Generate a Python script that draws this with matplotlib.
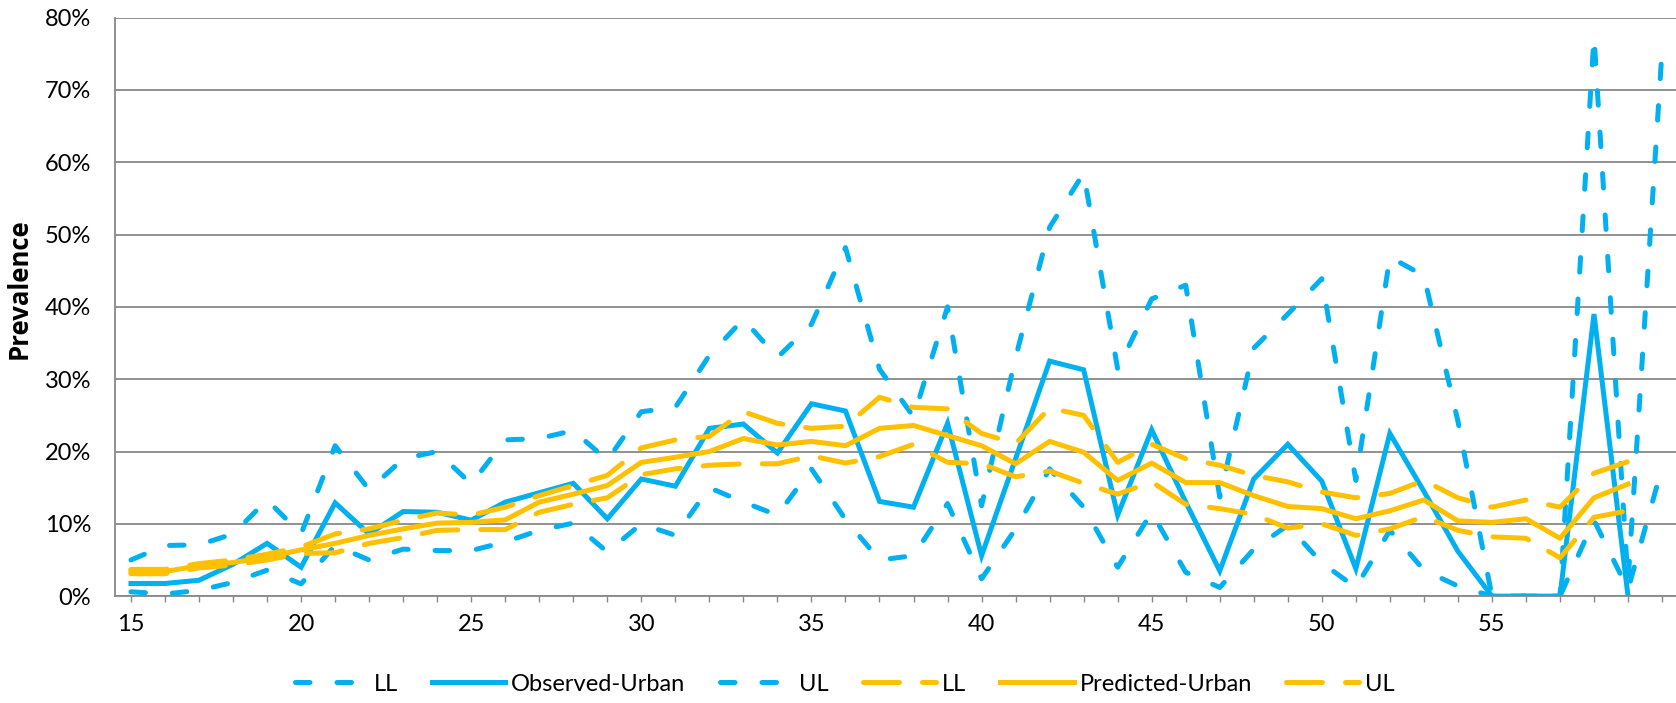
import numpy as np
import matplotlib
matplotlib.use("Agg")
import matplotlib.pyplot as plt
from matplotlib.ticker import FixedLocator, FuncFormatter

plt.rcParams["font.family"] = ["Lato", "DejaVu Sans"]

ages = np.arange(15, 61)

# observed prevalence (%) with its confidence limits
observed = [1.75, 1.75, 2.2, 4.4, 7.3, 4.0, 12.9, 8.6, 11.7, 11.6,
            10.5, 13.0, 14.3, 15.6, 10.7, 16.2, 15.2, 23.2, 23.8, 19.8,
            26.6, 25.6, 13.1, 12.3, 23.9, 5.6, 19.0, 32.5, 31.3, 11.2,
            23.0, 13.0, 3.5, 16.2, 21.0, 15.9, 3.8, 22.5, 14.5, 6.2,
            0.0, 0.0, 0.0, 39.0, 0.0, np.nan]
observed_ll = [0.6, 0.3, 0.8, 1.9, 3.6, 1.7, 7.0, 5.0, 6.5, 6.3,
               6.3, 7.5, 9.1, 10.1, 6.1, 10.0, 8.4, 15.0, 13.0, 11.2,
               17.6, 10.6, 5.0, 5.6, 12.8, 2.4, 9.3, 17.6, 12.3, 4.0,
               11.6, 3.3, 1.2, 6.5, 9.8, 4.6, 1.2, 9.1, 3.6, 1.4,
               0.0, 0.0, 0.0, 10.5, 0.9, 17.8]
observed_ul = [5.0, 7.0, 7.1, 8.6, 13.3, 8.6, 20.8, 14.7, 19.0, 20.0,
               15.5, 21.6, 21.8, 22.9, 18.8, 25.5, 26.1, 33.3, 38.3, 33.0,
               37.6, 48.2, 31.4, 24.8, 40.0, 12.5, 33.0, 51.0, 58.5, 31.4,
               41.1, 43.0, 13.7, 34.3, 39.0, 43.9, 16.0, 46.9, 44.3, 24.2,
               0.0, 0.0, 0.0, 77.4, 2.0, 75.5]

# model-predicted prevalence (%) with its confidence limits
predicted = [3.4, 3.4, 4.2, 4.65, 5.4, 6.4, 7.3, 8.4, 9.3, 10.1,
             10.2, 10.55, 13.0, 14.1, 15.3, 18.5, 19.2, 20.0, 21.8, 20.9,
             21.4, 20.8, 23.2, 23.6, 22.2, 20.8, 18.3, 21.4, 19.9, 16.0,
             18.4, 15.7, 15.7, 13.9, 12.4, 12.1, 10.7, 11.8, 13.3, 10.4,
             10.2, 10.7, 8.0, 13.6, 15.5, np.nan]
predicted_ll = [3.1, 3.1, 3.9, 4.3, 5.0, 5.9, 6.0, 7.3, 8.1, 9.1,
                9.2, 9.2, 11.6, 12.7, 13.6, 16.8, 17.6, 18.1, 18.3, 18.3,
                19.4, 18.4, 19.3, 21.0, 18.5, 18.3, 16.5, 17.3, 15.6, 14.1,
                15.8, 12.7, 12.1, 11.3, 9.4, 10.0, 8.4, 9.3, 11.0, 9.1,
                8.2, 8.0, 5.3, 10.9, 11.8, np.nan]
predicted_ul = [3.7, 3.7, 4.5, 5.0, 5.8, 6.8, 8.6, 9.3, 10.5, 11.5,
                11.2, 12.3, 13.9, 15.3, 16.7, 20.5, 21.6, 22.1, 25.5, 23.9,
                23.2, 23.5, 27.5, 26.1, 25.9, 22.5, 21.1, 26.0, 25.0, 18.5,
                21.0, 19.0, 18.1, 16.7, 15.8, 14.4, 13.6, 14.2, 16.0, 13.6,
                12.3, 13.3, 12.3, 17.0, 18.6, np.nan]

x_labels = ["15", "20", "25", "30", "35", "40", "45", "50", "55"]

BLUE = "#00B0F0"
ORANGE = "#FFC000"
GRID = "#888888"
LW = 3.6

fig = plt.figure(figsize=(16.76, 7.03), dpi=100)
ax = fig.add_axes([0.0686, 0.152, 0.9314, 0.823])

short_dash = (0, (2.9, 5.4))
long_dash = (0, (7.2, 4.6))

ax.plot(ages, observed_ll, color=BLUE, lw=LW, linestyle=short_dash,
        dash_capstyle="round", label="LL")
ax.plot(ages, observed, color=BLUE, lw=LW, solid_joinstyle="miter",
        label="Observed-Urban")
ax.plot(ages, observed_ul, color=BLUE, lw=LW, linestyle=short_dash,
        dash_capstyle="round", label="UL")
ax.plot(ages, predicted_ll, color=ORANGE, lw=LW, linestyle=long_dash,
        dash_capstyle="round", label="LL")
ax.plot(ages, predicted, color=ORANGE, lw=LW, label="Predicted-Urban")
ax.plot(ages, predicted_ul, color=ORANGE, lw=LW, linestyle=long_dash,
        dash_capstyle="round", label="UL")

ax.set_ylim(0, 80)
ax.set_xlim(14.53, 60.41)
ax.set_yticks(np.arange(0, 81, 10))
ax.yaxis.set_major_formatter(FuncFormatter(lambda v, _: f"{v:.0f}%"))
ax.xaxis.set_major_locator(FixedLocator(ages))
ax.set_xticklabels([str(a) if str(a) in x_labels else "" for a in ages])

ax.grid(axis="y", color=GRID, lw=1.3)
ax.set_axisbelow(True)
for side in ("top", "right"):
    ax.spines[side].set_visible(False)
for side in ("left", "bottom"):
    ax.spines[side].set_color(GRID)
    ax.spines[side].set_linewidth(1.3)

ax.tick_params(axis="y", length=0, pad=17, labelsize=17)
ax.tick_params(axis="x", length=4, width=1.0, color=GRID, pad=9, labelsize=17)

fig.text(19 / 1676, 0.59, "Prevalence", rotation=90,
         ha="center", va="center", fontsize=18.5, fontweight="bold",
         family=["Open Sans", "DejaVu Sans"])

fig.legend(loc="center", bbox_to_anchor=(0.504, 0.027), ncol=6, frameon=False,
           fontsize=17, handlelength=3.1, handletextpad=0.25, columnspacing=1.45)

fig.savefig("out.png", dpi=100)
